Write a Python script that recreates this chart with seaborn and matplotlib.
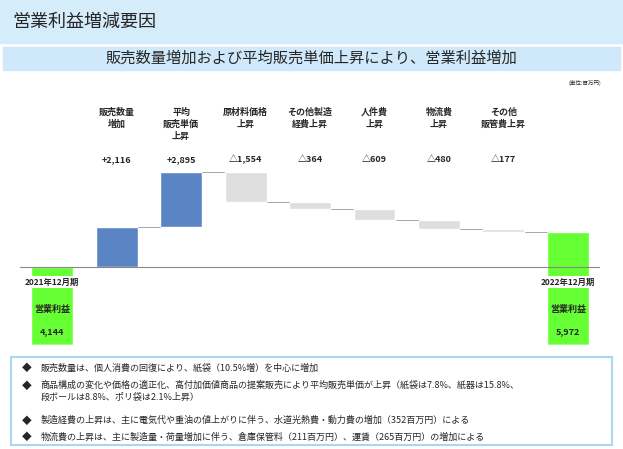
import pandas as pd
import matplotlib.pyplot as plt
import seaborn as sns
sns.set_style("white")
plt.rcParams['font.family'] = ['Noto Sans CJK JP', 'DejaVu Sans']

steps = ['2021年12月期', '販売数量\n増加', '平均\n販売単価\n上昇', '原材料価格\n上昇', 'その他製造\n経費上昇',
         '人件費\n上昇', '物流費\n上昇', 'その他\n販管費上昇', '2022年12月期']
changes = [4144, 2116, 2895, -1554, -364, -609, -480, -177, 5972]
value_labels = ['', '+2,116', '+2,895', '△1,554', '△364', '△609', '△480', '△177', '']
notes = ['販売数量は、個人消費の回復により、紙袋（10.5%増）を中心に増加',
         '商品構成の変化や価格の適正化、高付加価値商品の提案販売により平均販売単価が上昇（紙袋は7.8%、紙器は15.8%、\n段ボールは8.8%、ポリ袋は2.1%上昇）',
         '製造経費の上昇は、主に電気代や重油の値上がりに伴う、水道光熱費・動力費の増加（352百万円）による',
         '物流費の上昇は、主に製造量・荷量増加に伴う、倉庫保管料（211百万円）、運賃（265百万円）の増加による']

# running totals -> top and bottom of each floating bar
tops, bottoms, level = [], [], 0
for i, c in enumerate(changes):
    if i in (0, len(changes) - 1):
        bottoms.append(0); tops.append(c); level = c
    elif c > 0:
        bottoms.append(level); tops.append(level + c); level += c
    else:
        tops.append(level); bottoms.append(level + c); level += c
colors = ['#66ff33', '#5b84c4', '#5b84c4', '#dedede', '#dedede', '#dedede', '#dedede', '#dedede', '#66ff33']
df = pd.DataFrame({'step': range(len(steps)), 'top': tops, 'bottom': bottoms})

fig = plt.figure(figsize=(6.23, 4.49), dpi=100)
# header bands
fig.patches.append(plt.Rectangle((0, 0.905), 1, 0.095, transform=fig.transFigure, color='#d5ecfa'))
fig.text(0.02, 0.952, '営業利益増減要因', fontsize=13, va='center')
fig.patches.append(plt.Rectangle((0.005, 0.845), 0.99, 0.05, transform=fig.transFigure, color='#cfe9fa'))
fig.text(0.5, 0.87, '販売数量増加および平均販売単価上昇により、営業利益増加', fontsize=11, ha='center', va='center')
fig.text(0.965, 0.81, '(単位:百万円)', fontsize=4, ha='right')

ax = fig.add_axes([20/623, 104/449, 580/623, 245/449])
sns.barplot(x='step', y='top', data=df, hue='step', palette=colors, legend=False, width=0.65,
            saturation=1, ax=ax)  # colored
sns.barplot(x='step', y='bottom', data=df, color='white', width=0.67, saturation=1, ax=ax)  # mask below floating bars
ax.set_xlim(-0.5, len(steps) - 0.5)
ax.set_ylim(0, 13000)
ax.axis('off')
ax.axhline(changes[0], color='#888888', lw=0.8)
for i in range(1, len(steps) - 1):  # connectors
    lv = tops[i] if changes[i] > 0 else bottoms[i]
    ax.plot([i + 0.33, i + 0.67], [lv, lv], color='#999999', lw=0.6)
for i in range(1, len(steps) - 1):
    ax.text(i, 12600, steps[i], ha='center', va='top', fontsize=6.5, fontweight='bold', linespacing=1.4)
    ax.text(i, 9850, value_labels[i], ha='center', va='center', fontsize=6.5, fontweight='bold')
for i in (0, len(steps) - 1):
    ax.text(i, changes[0] - 800, steps[i], ha='center', va='center', fontsize=6, fontweight='bold',
            bbox=dict(facecolor='white', edgecolor='none', pad=1))
    ax.text(i, 1900, '営業利益', ha='center', va='center', fontsize=6.5, fontweight='bold')
    ax.text(i, 700, f'{changes[i]:,}', ha='center', va='center', fontsize=6.5, fontweight='bold')

# notes box
fig.patches.append(plt.Rectangle((0.018, 0.01), 0.965, 0.195, transform=fig.transFigure,
                                 facecolor='white', edgecolor='#a8d8f0', lw=1.5))
ys = [0.18, 0.153, 0.063, 0.027]
for y, n in zip(ys, notes):
    va = 'top' if '\n' in n else 'center'
    fig.text(0.035, y if va == 'center' else y - 0.013, '◆', fontsize=7, va='center')
    fig.text(0.065, y, n, fontsize=6.5, va=va, linespacing=1.5)

plt.savefig('out.png', dpi=100)
